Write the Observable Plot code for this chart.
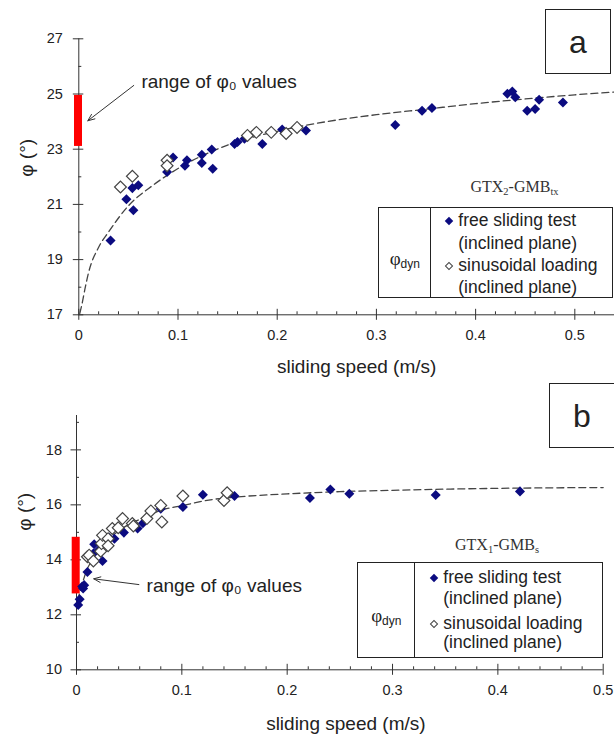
<!DOCTYPE html>
<html><head><meta charset="utf-8">
<script src="https://cdn.jsdelivr.net/npm/d3@7"></script>
<script src="https://cdn.jsdelivr.net/npm/@observablehq/plot@0.6"></script>
<style>
body{margin:0;background:#fff;}
#wrap{position:relative;width:614px;height:737px;overflow:hidden;font-family:"Liberation Sans",Arial,sans-serif;color:#222;}
#wrap svg{position:absolute;left:0;}
.box{position:absolute;border:1px solid #222;box-sizing:border-box;background:#fff;}
.plab{display:flex;align-items:center;justify-content:center;font-size:32px;line-height:1;}
.leg{font-size:17.5px;}
.leg .div{position:absolute;top:0;bottom:0;width:0;border-left:1px solid #222;}
.leg .phi{position:absolute;font-family:"Liberation Serif",serif;font-size:19px;transform:translate(-50%,-50%);white-space:nowrap;}
.leg .phi sub{font-family:"Liberation Sans",sans-serif;font-size:12px;vertical-align:-3px;}
.leg .row{position:absolute;white-space:nowrap;transform:translateY(-50%);line-height:1;}
.dia{position:absolute;width:6px;height:6px;transform:translate(-50%,-50%) rotate(45deg);box-sizing:border-box;}
.dia.f{background:#0b0b80;}
.dia.o{border:1px solid #444;background:#fff;}
.gtx{position:absolute;font-family:"Liberation Serif",serif;font-size:16px;color:#333;transform:translate(-50%,-50%);white-space:nowrap;}
.gtx sub{font-size:10.5px;vertical-align:-3px;}
</style></head>
<body>
<div id="wrap"></div>
<script>
// ---------- Panel a data ----------
const aFreeS = [0.032,0.048,0.055,0.054,0.060,0.089,0.095,0.107,0.109,0.124,0.124,0.134,0.135,0.157,0.160,0.167,0.185,0.205,0.229,0.319,0.346,0.356,0.432,0.437,0.440,0.452,0.460,0.464,0.488];
const aFreeV = [19.69,21.19,20.79,21.59,21.69,22.17,22.70,22.40,22.60,22.80,22.50,22.99,22.29,23.19,23.26,23.38,23.19,23.71,23.68,23.88,24.39,24.49,25.01,25.09,24.88,24.39,24.46,24.79,24.69];
const aSinS = [0.042,0.054,0.089,0.089,0.170,0.179,0.194,0.209,0.220];
const aSinV = [21.63,22.02,22.60,22.40,23.50,23.61,23.61,23.57,23.79];
const aCurveS = [0.001,0.003,0.006,0.01,0.02,0.03,0.05,0.075,0.1,0.15,0.2,0.25,0.3,0.35,0.4,0.45,0.5,0.54];
const aCurveV = [17.05,17.35,17.9,18.55,19.45,20.0,20.95,21.7,22.3,23.15,23.65,24.0,24.25,24.45,24.65,24.82,24.97,25.07];
const aPhi0 = [23.1, 24.95];
const aXMajor = [0,0.1,0.2,0.3,0.4,0.5];
const aXMinor = [0.02,0.04,0.06,0.08,0.12,0.14,0.16,0.18,0.22,0.24,0.26,0.28,0.32,0.34,0.36,0.38,0.42,0.44,0.46,0.48,0.52];
const aXLabels = ["0","0.1","0.2","0.3","0.4","0.5"];
const aYMajor = [17,19,21,23,25,27];
const aYMinor = [18,20,22,24,26];
const aYLabels = ["17","19","21","23","25","27"];

// ---------- Panel b data ----------
const bFreeS = [0.0016,0.003,0.0054,0.0063,0.0073,0.0104,0.016,0.0168,0.021,0.0247,0.031,0.036,0.045,0.058,0.063,0.080,0.101,0.120,0.150,0.2216,0.241,0.259,0.341,0.421];
const bFreeV = [12.36,12.57,13.03,12.96,13.08,13.56,14.23,14.57,14.36,13.96,14.80,14.77,14.99,15.14,15.33,15.86,15.92,16.37,16.32,16.25,16.56,16.40,16.36,16.49];
const bSinS = [0.0104,0.012,0.016,0.023,0.0237,0.0247,0.030,0.030,0.034,0.0396,0.0437,0.053,0.054,0.0668,0.0706,0.080,0.081,0.101,0.140,0.143];
const bSinV = [14.11,14.17,13.96,14.31,14.59,14.89,14.77,14.51,15.14,15.17,15.50,15.32,15.23,15.50,15.78,15.98,15.38,16.32,16.16,16.44];
const bCurveS = [0.001,0.003,0.006,0.01,0.015,0.02,0.03,0.04,0.05,0.06,0.08,0.1,0.13,0.15,0.2,0.25,0.3,0.4,0.5];
const bCurveV = [12.5,12.8,13.2,13.65,14.0,14.3,14.75,15.05,15.3,15.47,15.8,15.97,16.2,16.28,16.4,16.48,16.53,16.6,16.63];
const bPhi0 = [12.76, 14.82];
const bXMajor = [0,0.1,0.2,0.3,0.4,0.5];
const bXMinor = [0.02,0.04,0.06,0.08,0.12,0.14,0.16,0.18,0.22,0.24,0.26,0.28,0.32,0.34,0.36,0.38,0.42,0.44,0.46,0.48];
const bXLabels = ["0","0.1","0.2","0.3","0.4","0.5"];
const bYMajor = [10,12,14,16,18];
const bYMinor = [11,13,15,17,19];
const bYLabels = ["10","12","14","16","18"];

const xTitle = "sliding speed (m/s)";
const yTitle = "φ (°)";
const annText = "range of φ₀ values";
const annA = {x1: 0.0554, y1: 25.31, x2: 0.0091, y2: 24.03, tx: 0.0631, ty: 25.43};
const annB = {x1: 0.0592, y1: 13.10, x2: 0.0164, y2: 13.31, tx: 0.0665, ty: 13.04};

const zip = (S, V) => S.map((s, i) => ({s, v: V[i]}));
const AX = "#333";

function panel(o) {
  const fh = o.height - o.mt - o.mb;
  const fw = 614 - o.ml - o.mr;
  const xl = new Map(o.xMajor.map((d, i) => [d, o.xLabels[i]]));
  const yl = new Map(o.yMajor.map((d, i) => [d, o.yLabels[i]]));
  return Plot.plot({
    width: 614, height: o.height,
    marginLeft: o.ml, marginRight: o.mr, marginTop: o.mt, marginBottom: o.mb,
    x: {domain: o.xDomain}, y: {domain: o.yDomain},
    style: {fontFamily: "'Liberation Sans', Arial, sans-serif", fontSize: "14.5px", color: "#222", background: "transparent", overflow: "visible"},
    marks: [
      Plot.ruleX(o.xMinor, {stroke: AX, insetTop: fh - 3}),
      Plot.ruleX(o.xMajor, {stroke: AX, insetTop: fh - 5.5, insetBottom: -5.5}),
      Plot.ruleY(o.yMinor, {stroke: AX, insetRight: fw - 3}),
      Plot.ruleY(o.yMajor, {stroke: AX, insetLeft: -5.5, insetRight: fw - 5}),
      Plot.ruleY([o.yDomain[0]], {stroke: AX}),
      Plot.ruleX([0], {stroke: AX}),
      Plot.axisX({ticks: o.xMajor, tickSize: 0, tickPadding: 15, tickFormat: d => xl.get(d), label: null}),
      Plot.axisY({ticks: o.yMajor, tickSize: 0, tickPadding: o.ypad, tickFormat: d => yl.get(d), label: null}),
      Plot.text([xTitle], {frameAnchor: "bottom", dx: o.xtdx, dy: o.xtdy, lineAnchor: "middle", fontSize: 19}),
      Plot.text([yTitle], {frameAnchor: "left", dx: -51.6, dy: o.ytdy, rotate: -90, lineAnchor: "middle", fontSize: 19}),
      Plot.line(zip(o.curveS, o.curveV), {x: "s", y: "v", stroke: "#444", strokeWidth: 1.3, strokeDasharray: "7,4", curve: "monotone-x"}),
      Plot.ruleX([0], {y1: o.phi0[0], y2: o.phi0[1], stroke: "#f00", strokeWidth: 8, dx: -0.8}),
      Plot.dot(zip(o.freeS, o.freeV), {x: "s", y: "v", symbol: "square", rotate: 45, r: 4, fill: "#0b0b80", stroke: "none"}),
      Plot.dot(zip(o.sinS, o.sinV), {x: "s", y: "v", symbol: "square", rotate: 45, r: 4.7, fill: "#fff", stroke: "#444", strokeWidth: 1.2}),
      Plot.arrow([o.ann], {x1: "x1", y1: "y1", x2: "x2", y2: "y2", stroke: "#333", strokeWidth: 1, headLength: 11, headAngle: 45}),
      Plot.text([o.ann], {x: "tx", y: "ty", text: () => annText, textAnchor: "start", lineAnchor: "middle", fontSize: 19, fill: "#222"})
    ]
  });
}

const wrap = document.getElementById("wrap");
const svgA = panel({height: 385, ml: 78.3, mr: 0, mt: 38.3, mb: 70.7, xDomain: [0, 0.54], yDomain: [17, 27],
  xMajor: aXMajor, xMinor: aXMinor, xLabels: aXLabels, yMajor: aYMajor, yMinor: aYMinor, yLabels: aYLabels, ypad: 16,
  xtdx: 10, xtdy: 52.4, ytdy: 0, curveS: aCurveS, curveV: aCurveV, phi0: aPhi0,
  freeS: aFreeS, freeV: aFreeV, sinS: aSinS, sinV: aSinV, ann: annA});
svgA.style.top = "0px";
wrap.appendChild(svgA);
const svgB = panel({height: 352, ml: 76, mr: 11.3, mt: 30, mb: 67.7, xDomain: [0, 0.5], yDomain: [10, 19.25],
  xMajor: bXMajor, xMinor: bXMinor, xLabels: bXLabels, yMajor: bYMajor, yMinor: bYMinor, yLabels: bYLabels, ypad: 14.5,
  xtdx: 6, xtdy: 54, ytdy: -12, curveS: bCurveS, curveV: bCurveV, phi0: bPhi0,
  freeS: bFreeS, freeV: bFreeV, sinS: bSinS, sinV: bSinV, ann: annB});
svgB.style.top = "385px";
wrap.appendChild(svgB);

// overlays: panel labels, material names, legends
const panelLabels = ["a", "b"];
const materials = ["GTX<sub>2</sub>-GMB<sub>tx</sub>", "GTX<sub>1</sub>-GMB<sub>s</sub>"];
const legendRows = ["free sliding test", "(inclined plane)", "sinusoidal loading", "(inclined plane)"];

function add(html) { const d = document.createElement("div"); d.innerHTML = html; while (d.firstChild) wrap.appendChild(d.firstChild); }
add(`<div class="box plab" style="left:545px;top:9px;width:66px;height:65px;">${panelLabels[0]}</div>`);
add(`<div class="box plab" style="left:549px;top:383px;width:66px;height:65px;">${panelLabels[1]}</div>`);
add(`<div class="gtx" style="left:514.5px;top:187px;">${materials[0]}</div>`);
add(`<div class="gtx" style="left:497px;top:545px;">${materials[1]}</div>`);

function legend(L, T, W, H, dv, rows, dx, tx) {
  let h = `<div class="box leg" style="left:${L}px;top:${T}px;width:${W}px;height:${H}px;">`;
  h += `<div class="div" style="left:${dv}px"></div>`;
  h += `<div class="phi" style="left:${dv/2}px;top:${H/2+5}px">φ<sub>dyn</sub></div>`;
  rows.forEach((y, i) => {
    if (i % 2 === 0) h += `<div class="dia ${i === 0 ? "f" : "o"}" style="left:${dx}px;top:${y}px"></div>`;
    h += `<div class="row" style="left:${tx}px;top:${y}px">${legendRows[i]}</div>`;
  });
  return h + `</div>`;
}
add(legend(378.3, 207.3, 234.5, 90.5, 51, [13, 35.5, 58, 79.5], 69.5, 79));
add(legend(357.3, 561.7, 246, 96, 56, [15.5, 36, 61, 80.5], 75.5, 85));
</script>
</body></html>
